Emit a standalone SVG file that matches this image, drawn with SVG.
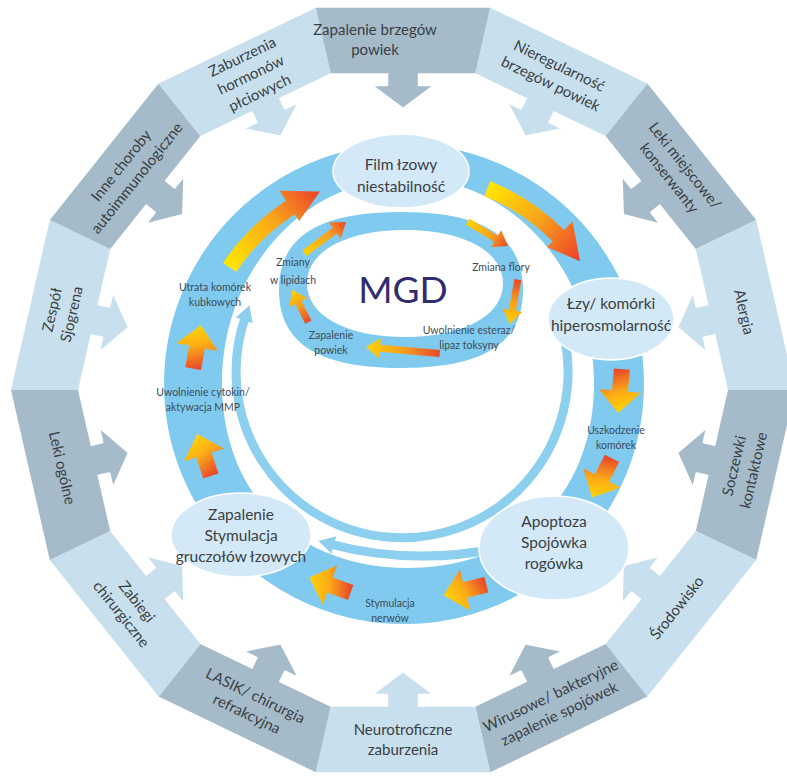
<svg xmlns="http://www.w3.org/2000/svg" width="787" height="778" viewBox="0 0 787 778">
<defs>
<style>
.dk{fill:#a5bbca}
.lt{fill:#c8dfed}
.ot{font-family:Lato,"Liberation Sans",sans-serif;font-size:15px;fill:#3a3f44;text-anchor:middle}
.nd{fill:#d3e9f7;stroke:#ffffff;stroke-width:1.5}
.nt{font-family:Lato,"Liberation Sans",sans-serif;font-size:15.5px;fill:#3a3f44;text-anchor:middle}
.sm{font-family:Lato,"Liberation Sans",sans-serif;font-size:10.5px;fill:#3f4b58;text-anchor:middle}
.band{fill:#7fcaee}
.thin{fill:none;stroke:#8ccfef;stroke-width:9}
.oarr{stroke:#ffffff;stroke-width:2.5;stroke-linejoin:round}
</style>
<path id="oa" d="M-16,-10H16V12H32L0,36L-32,12H-16Z"/>
<path id="sa" d="M-22,-8H0V-21L22,0L0,21V8H-22Z"/>
<linearGradient id="gA1" gradientUnits="userSpaceOnUse" x1="229" y1="267" x2="320" y2="191">
<stop offset="0" stop-color="#ffe600"/><stop offset="0.55" stop-color="#f9a51b"/><stop offset="1" stop-color="#ec3f2a"/>
</linearGradient>
<linearGradient id="gA2" gradientUnits="userSpaceOnUse" x1="487" y1="188" x2="580" y2="261">
<stop offset="0" stop-color="#ffe600"/><stop offset="0.5" stop-color="#f9a51b"/><stop offset="1" stop-color="#ec3f2a"/>
</linearGradient>
<linearGradient id="gS" x1="1" y1="0.35" x2="0.05" y2="0.65">
<stop offset="0" stop-color="#ffd800"/><stop offset="0.5" stop-color="#fbab18"/><stop offset="1" stop-color="#e94a2a"/>
</linearGradient>
<linearGradient id="gM1" x1="0" y1="0.5" x2="1" y2="0.5">
<stop offset="0" stop-color="#ffd200"/><stop offset="0.6" stop-color="#f7a01c"/><stop offset="1" stop-color="#e9472a"/>
</linearGradient>
<linearGradient id="gM2" x1="1" y1="0.5" x2="0" y2="0.5">
<stop offset="0" stop-color="#ffd200"/><stop offset="0.5" stop-color="#f7a01c"/><stop offset="1" stop-color="#e9472a"/>
</linearGradient>
<marker id="thinHead" markerUnits="userSpaceOnUse" markerWidth="22" markerHeight="22" refX="4" refY="11" orient="auto">
<path d="M0,2 L16,11 L0,20 Z" fill="#8ccfef"/>
</marker>
</defs>
<rect width="787" height="778" fill="#ffffff"/>

<g id="connectors">
<g id="outer-arrows">
<use href="#oa" class="dk oarr" transform="translate(403,73) rotate(0)"/>
<use href="#oa" class="lt oarr" transform="translate(540.5,104.4) rotate(25.71)"/>
<use href="#oa" class="dk oarr" transform="translate(650.8,192.4) rotate(51.43)"/>
<use href="#oa" class="lt oarr" transform="translate(712,319.5) rotate(77.14)"/>
<use href="#oa" class="dk oarr" transform="translate(712,460.5) rotate(102.86)"/>
<use href="#oa" class="lt oarr" transform="translate(650.8,587.6) rotate(128.57)"/>
<use href="#oa" class="dk oarr" transform="translate(540.5,675.6) rotate(154.29)"/>
<use href="#oa" class="lt oarr" transform="translate(403,707) rotate(180)"/>
<use href="#oa" class="dk oarr" transform="translate(265.5,675.6) rotate(205.71)"/>
<use href="#oa" class="lt oarr" transform="translate(155.2,587.6) rotate(231.43)"/>
<use href="#oa" class="dk oarr" transform="translate(94,460.5) rotate(257.14)"/>
<use href="#oa" class="lt oarr" transform="translate(94,319.5) rotate(282.86)"/>
<use href="#oa" class="dk oarr" transform="translate(155.2,192.4) rotate(308.57)"/>
<use href="#oa" class="lt oarr" transform="translate(265.5,104.4) rotate(334.29)"/>
</g>
</g>

<g id="outer-ring">
<g id="seg-nieregularnosc"><polygon class="lt" points="490.2,7.8 647.4,83.5 605.6,135.9 475.3,73.2"/>
<text class="ot" transform="translate(555,75) rotate(25.71)"><tspan x="0" y="-5">Nieregularność</tspan><tspan x="0" y="15">brzegów powiek</tspan></text></g>
<g id="seg-leki-miejscowe"><polygon class="dk" points="647.4,83.5 756.2,219.9 695.8,249 605.6,135.9"/>
<text class="ot" transform="translate(677,172) rotate(51.43)"><tspan x="0" y="-5">Leki miejscowe/</tspan><tspan x="0" y="15">konserwanty</tspan></text></g>
<g id="seg-alergia"><polygon class="lt" points="756.2,219.9 795,390 728,390 695.8,249"/>
<text class="ot" transform="translate(744,312) rotate(77.14)"><tspan x="0" y="5">Alergia</tspan></text></g>
<g id="seg-soczewki"><polygon class="dk" points="795,390 756.2,560.1 695.8,531 728,390"/>
<text class="ot" transform="translate(744,468) rotate(-77.14)"><tspan x="0" y="-5">Soczewki</tspan><tspan x="0" y="15">kontaktowe</tspan></text></g>
<g id="seg-srodowisko"><polygon class="lt" points="756.2,560.1 647.4,696.5 605.6,644.1 695.8,531"/>
<text class="ot" transform="translate(677,608) rotate(-51.43)"><tspan x="0" y="5">Środowisko</tspan></text></g>
<g id="seg-wirusowe"><polygon class="dk" points="647.4,696.5 490.2,772.2 475.3,706.8 605.6,644.1"/>
<text class="ot" transform="translate(555,705) rotate(-25.71)"><tspan x="0" y="-5">Wirusowe/ bakteryjne</tspan><tspan x="0" y="15">zapalenie spojówek</tspan></text></g>
<g id="seg-neurotroficzne"><polygon class="lt" points="490.2,772.2 315.8,772.2 330.7,706.8 475.3,706.8"/>
<text class="ot" transform="translate(403,740)"><tspan x="0" y="-5">Neurotroficzne</tspan><tspan x="0" y="15">zaburzenia</tspan></text></g>
<g id="seg-lasik"><polygon class="dk" points="315.8,772.2 158.6,696.5 200.4,644.1 330.7,706.8"/>
<text class="ot" transform="translate(251,705) rotate(25.71)"><tspan x="0" y="-5">LASIK/ chirurgia</tspan><tspan x="0" y="15">refrakcyjna</tspan></text></g>
<g id="seg-zabiegi"><polygon class="lt" points="158.6,696.5 49.8,560.1 110.2,531 200.4,644.1"/>
<text class="ot" transform="translate(129,608) rotate(51.43)"><tspan x="0" y="-5">Zabiegi</tspan><tspan x="0" y="15">chirurgiczne</tspan></text></g>
<g id="seg-leki-ogolne"><polygon class="dk" points="49.8,560.1 11,390 78,390 110.2,531"/>
<text class="ot" transform="translate(62,468) rotate(77.14)"><tspan x="0" y="5">Leki ogólne</tspan></text></g>
<g id="seg-zespol"><polygon class="lt" points="11,390 49.8,219.9 110.2,249 78,390"/>
<text class="ot" transform="translate(62,312) rotate(-77.14)"><tspan x="0" y="-5">Zespół</tspan><tspan x="0" y="15">Sjogrena</tspan></text></g>
<g id="seg-inne-choroby"><polygon class="dk" points="49.8,219.9 158.6,83.5 200.4,135.9 110.2,249"/>
<text class="ot" transform="translate(129,172) rotate(-51.43)"><tspan x="0" y="-5">Inne choroby</tspan><tspan x="0" y="15">autoimmunologiczne</tspan></text></g>
<g id="seg-zaburzenia"><polygon class="lt" points="158.6,83.5 315.8,7.8 330.7,73.2 200.4,135.9"/>
<text class="ot" transform="translate(251,75) rotate(-25.71)"><tspan x="0" y="-15">Zaburzenia</tspan><tspan x="0" y="5">hormonów</tspan><tspan x="0" y="25">płciowych</tspan></text></g>
<g id="seg-zapalenie-brzegow"><polygon class="dk" points="315.8,7.8 490.2,7.8 475.3,73.2 330.7,73.2"/>
<text class="ot" transform="translate(375,40)"><tspan x="0" y="-5">Zapalenie brzegów</tspan><tspan x="0" y="15">powiek</tspan></text></g>
</g>

<g id="cycle-connectors">
<path class="band" fill-rule="evenodd" d="M164,384 A240,240 0 1,0 644,384 A240,240 0 1,0 164,384 Z M222,383 C222,269.8 305.3,178 408,178 C510.7,178 594,269.8 594,383 C594,494 519.6,568 408,568 C296.4,568 222,494 222,383 Z"/>
<path class="thin" d="M565,340 A166,166 0 1,1 245.5,316.6" marker-end="url(#thinHead)"/>
<path class="thin" stroke-width="8" d="M500,548 Q412,566 330,544" marker-end="url(#thinHead)"/>
<path class="band" fill-rule="evenodd" d="M523,290 C523,343 484,368 401,368 C318,368 279,343 279,290 C279,237 318,212 401,212 C484,212 523,237 523,290 Z M503,283.5 C503,315.6 463.8,337 405,337 C346.2,337 307,315.6 307,283.5 C307,251.4 346.2,230 405,230 C463.8,230 503,251.4 503,283.5 Z"/>

<path fill="url(#gA1)" d="M223,262.9 A222,222 0 0,1 286.1,200.8 L279.6,190.7 L320,191.5 L299.2,220.9 L294.8,214.2 A206,206 0 0,0 236.2,271.8 Z"/>
<path fill="url(#gA2)" d="M490.2,181.2 A222,222 0 0,1 564,230 L572.5,221.5 L580.1,261.2 L547,247 L552.7,241.3 A206,206 0 0,0 484.2,196 Z"/>
<use href="#sa" fill="url(#gS)" transform="translate(620,391) rotate(95)"/>
<use href="#sa" fill="url(#gS)" transform="translate(602,478) rotate(117)"/>
<use href="#sa" fill="url(#gS)" transform="translate(465,590) rotate(166)"/>
<use href="#sa" fill="url(#gS)" transform="translate(330,585) rotate(200)"/>
<use href="#sa" fill="url(#gS)" transform="translate(204,455) rotate(252)"/>
<use href="#sa" fill="url(#gS)" transform="translate(197,347) rotate(280)"/>

<path fill="url(#gM1)" d="M-52,-3.5H-14V-10L0,0L-14,10V3.5H-52Z" transform="translate(346,222) rotate(-37)"/>
<path fill="url(#gM1)" d="M-47,-3.5H-14V-10L0,0L-14,10V3.5H-47Z" transform="translate(508,246) rotate(31)"/>
<path fill="url(#gM2)" d="M-45,-3.5H-14V-10L0,0L-14,10V3.5H-45Z" transform="translate(510,324) rotate(100)"/>
<path fill="url(#gM2)" d="M-74,-3.5H-14V-10L0,0L-14,10V3.5H-74Z" transform="translate(366,347) rotate(185)"/>
<path fill="url(#gM2)" d="M-36,-3.5H-14V-10L0,0L-14,10V3.5H-36Z" transform="translate(292,290) rotate(243)"/>

<text class="sm"><tspan x="215" y="291">Utrata komórek</tspan><tspan x="215" y="306">kubkowych</tspan></text>
<text class="sm"><tspan x="203" y="396">Uwolnienie cytokin/</tspan><tspan x="203" y="411">aktywacja MMP</tspan></text>
<text class="sm"><tspan x="616" y="434">Uszkodzenie</tspan><tspan x="616" y="449">komórek</tspan></text>
<text class="sm"><tspan x="390" y="607">Stymulacja</tspan><tspan x="390" y="622">nerwów</tspan></text>
<text class="sm"><tspan x="293" y="266">Zmiany</tspan><tspan x="293" y="284">w lipidach</tspan></text>
<text class="sm"><tspan x="501" y="271">Zmiana flory</tspan></text>
<text class="sm"><tspan x="469" y="334">Uwolnienie esteraz/</tspan><tspan x="469" y="349">lipaz toksyny</tspan></text>
<text class="sm"><tspan x="331" y="339">Zapalenie</tspan><tspan x="331" y="354">powiek</tspan></text>
</g>

<g id="node-mgd">
<text x="403" y="303" font-family="Lato,'Liberation Sans',sans-serif" font-size="37" fill="#312c6e" text-anchor="middle">MGD</text>
</g>
<g id="node-film">
<ellipse class="nd" cx="401" cy="171" rx="68" ry="37"/>
<text class="nt"><tspan x="401" y="170">Film łzowy</tspan><tspan x="401" y="192">niestabilność</tspan></text>
</g>
<g id="node-lzy">
<ellipse class="nd" cx="611" cy="319" rx="63" ry="41"/>
<text class="nt"><tspan x="611" y="309">Łzy/ komórki</tspan><tspan x="611" y="331">hiperosmolarność</tspan></text>
</g>
<g id="node-apoptoza">
<ellipse class="nd" cx="554" cy="548" rx="75" ry="52"/>
<text class="nt"><tspan x="554" y="527">Apoptoza</tspan><tspan x="554" y="548">Spojówka</tspan><tspan x="554" y="569">rogówka</tspan></text>
</g>
<g id="node-zapalenie">
<ellipse class="nd" cx="241" cy="535" rx="70" ry="42"/>
<text class="nt"><tspan x="241" y="520">Zapalenie</tspan><tspan x="241" y="541">Stymulacja</tspan><tspan x="241" y="562">gruczołów łzowych</tspan></text>
</g>
</svg>
